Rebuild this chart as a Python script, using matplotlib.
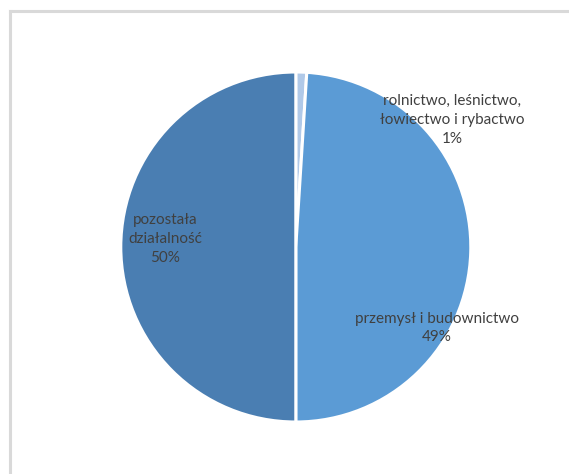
import matplotlib
matplotlib.use("Agg")
import matplotlib.pyplot as plt
from matplotlib.lines import Line2D

categories = ["rolnictwo, leśnictwo,\nłowiectwo i rybactwo", "przemysł i budownictwo", "pozostała\ndziałalność"]
values = [1, 49, 50]
colors = ["#b0c9e8", "#5b9bd5", "#4a7eb2"]
label_pos = [(452, 120), (437, 328), (165, 239)]

W, H = 569, 474
fig = plt.figure(figsize=(W / 100, H / 100), dpi=100)
fig.patch.set_facecolor("white")

# outer chart frame (partially cropped: only top and left edges visible)
fx, fy = 10 / W, 1 - 10.5 / H
fig.lines.append(Line2D([fx, 1.0], [fy, fy], transform=fig.transFigure, color="#d9d9d9", linewidth=2.2))
fig.lines.append(Line2D([fx, fx], [0, fy], transform=fig.transFigure, color="#d9d9d9", linewidth=2.2))

ax = fig.add_axes([0, 0, 1, 1])
cx, cy, r = 295.8, H - 247, 175
ax.pie(values, colors=colors, startangle=90, counterclock=False, center=(cx, cy), radius=r,
       wedgeprops=dict(edgecolor="white", linewidth=2.2), frame=True)
ax.set_xlim(0, W)
ax.set_ylim(0, H)
ax.set_aspect("equal")
ax.axis("off")

total = sum(values)
for cat, v, (x, y) in zip(categories, values, label_pos):
    ax.text(x, H - y, f"{cat}\n{round(100 * v / total)}%", ha="center", va="center",
            fontsize=11, family=["Lato", "DejaVu Sans"], color="#404040", linespacing=1.42)

fig.savefig("out.png", dpi=100, facecolor="white")
